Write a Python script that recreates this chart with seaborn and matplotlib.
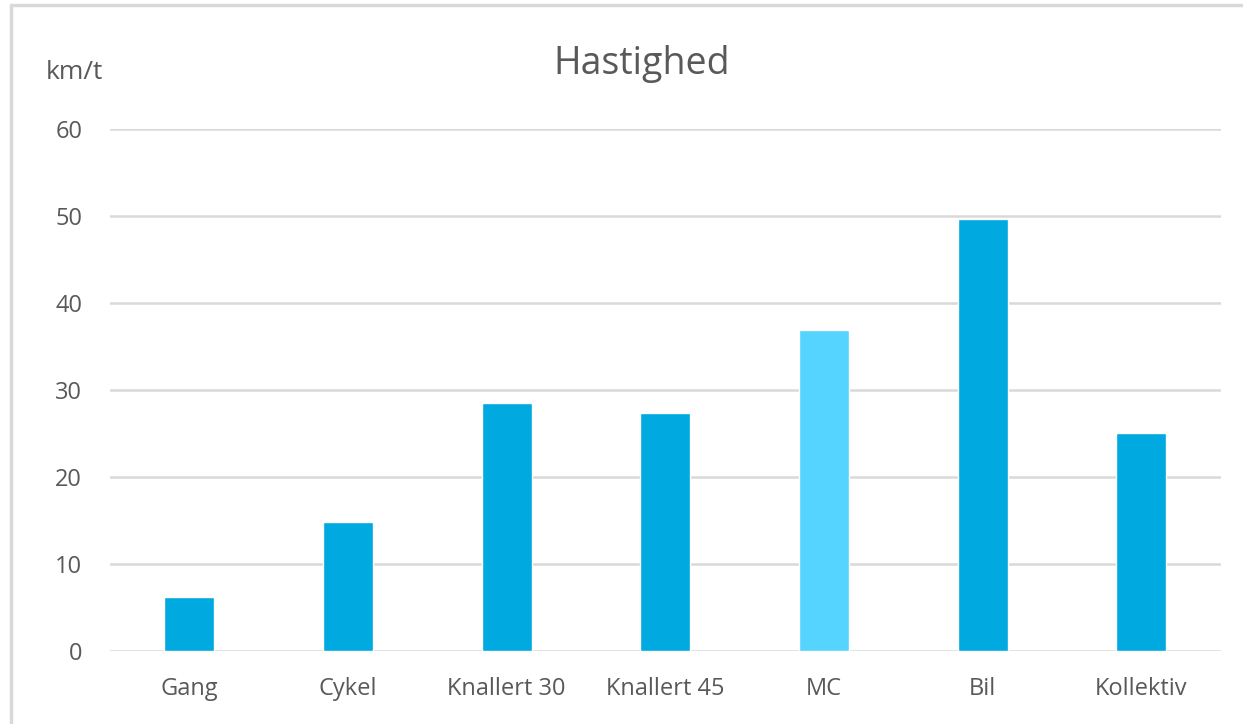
import matplotlib
matplotlib.use("Agg")
import matplotlib.pyplot as plt
import seaborn as sns
import pandas as pd
from matplotlib.lines import Line2D

# data
categories = ["Gang", "Cykel", "Knallert 30", "Knallert 45", "MC", "Bil", "Kollektiv"]
speeds = [6.2, 14.8, 28.5, 27.4, 36.9, 49.7, 25.1]
highlight = "MC"

df = pd.DataFrame({"kategori": categories, "km_t": speeds})

sns.set_style("white")
plt.rcParams['font.family'] = ['Open Sans', 'DejaVu Sans']

dark = "#00A9E0"
light = "#55D4FF"
palette = {c: (light if c == highlight else dark) for c in categories}
txt = "#595959"

fig = plt.figure(figsize=(12.43, 7.24), dpi=100)
ax = fig.add_axes([0.0885, 0.1008, 0.8935, 0.721])

sns.barplot(data=df, x="kategori", y="km_t", hue="kategori", palette=palette,
            order=categories, width=0.315, legend=False, ax=ax, saturation=1)

ax.set_ylim(0, 60)
ax.set_yticks(range(0, 61, 10))
ax.set_xlim(-0.5, len(categories) - 0.5)
ax.yaxis.grid(True, color="#D9D9D9", linewidth=1.8)
ax.set_axisbelow(True)
for s in ax.spines.values():
    s.set_visible(False)
ax.set_xlabel("")
ax.set_ylabel("")
ax.tick_params(axis="y", length=0, pad=20, labelsize=17, labelcolor=txt)
ax.tick_params(axis="x", length=0, pad=19, labelsize=17, labelcolor=txt)

fig.text(0.516, 0.912, "Hastighed", ha="center", va="center", fontsize=27, color=txt)
fig.text(0.0595, 0.900, "km/t", ha="center", va="center", fontsize=19, color=txt)

# thin grey frame (top and left edges only visible)
fr = "#D9D9D9"
fig.lines.append(Line2D([11 / 1243, 1], [1 - 5 / 724, 1 - 5 / 724],
                        transform=fig.transFigure, color=fr, linewidth=2.5))
fig.lines.append(Line2D([11 / 1243, 11 / 1243], [0, 1 - 5 / 724],
                        transform=fig.transFigure, color=fr, linewidth=2.5))

fig.savefig("out.png", dpi=100)
